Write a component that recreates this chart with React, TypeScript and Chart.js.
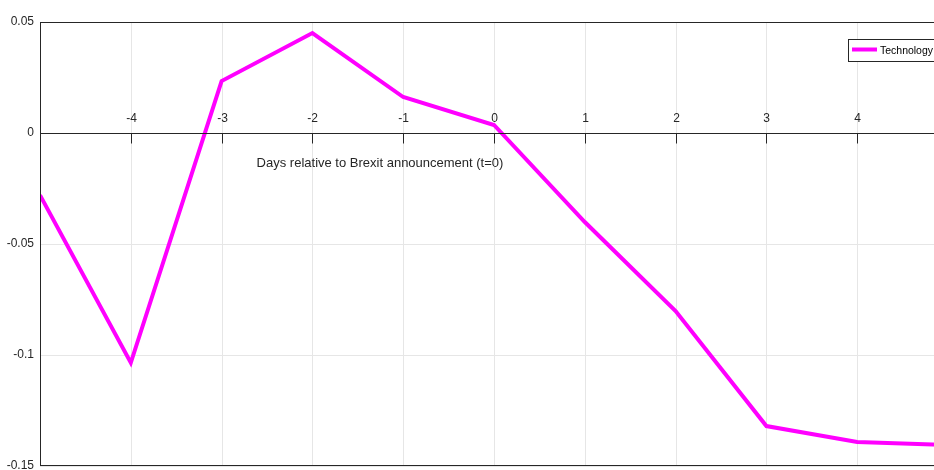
import React, { useEffect, useRef } from "react";
import { Chart, registerables } from "chart.js";

Chart.register(...registerables);

const days = [-5, -4, -3, -2, -1, 0, 1, 2, 3, 4, 5];
const technology = [-0.028, -0.1035, 0.0234, 0.045, 0.0162, 0.0036, -0.0401, -0.0802, -0.132, -0.1392, -0.1405];
const xTicks = [-4, -3, -2, -1, 0, 1, 2, 3, 4];
const yTickLabels: Record<string, string> = { "0.05": "0.05", "0": "0", "-0.05": "-0.05", "-0.1": "-0.1", "-0.15": "-0.15" };
const seriesName = "Technology";
const xTitle = "Days relative to Brexit announcement (t=0)";

const FONT = "Liberation Sans, Arial, sans-serif";
const TEXT = "#262626";
const GRID = "#e6e6e6";

const decor = {
  id: "decor",
  beforeDatasetsDraw(chart: any) {
    const { ctx, chartArea } = chart;
    const xs = chart.scales.x;
    ctx.save();
    ctx.strokeStyle = GRID;
    ctx.lineWidth = 1;
    for (let t = -5; t <= 5; t++) {
      const px = Math.round(xs.getPixelForValue(t)) + 0.5;
      ctx.beginPath();
      ctx.moveTo(px, chartArea.top);
      ctx.lineTo(px, chartArea.bottom);
      ctx.stroke();
    }
    ctx.restore();
  },
  afterDraw(chart: any) {
    const { ctx, chartArea } = chart;
    const xs = chart.scales.x;
    const ys = chart.scales.y;
    ctx.save();
    ctx.strokeStyle = "#262626";
    ctx.lineWidth = 1;
    ctx.strokeRect(chartArea.left + 0.5, chartArea.top + 0.5, chartArea.right - chartArea.left - 1, chartArea.bottom - chartArea.top - 1);
    const y0 = Math.round(ys.getPixelForValue(0)) + 0.5;
    ctx.beginPath();
    ctx.moveTo(chartArea.left, y0);
    ctx.lineTo(chartArea.right, y0);
    ctx.stroke();
    ctx.font = `12px ${FONT}`;
    ctx.fillStyle = TEXT;
    ctx.textAlign = "center";
    ctx.textBaseline = "middle";
    xTicks.forEach((t) => {
      const px = Math.round(xs.getPixelForValue(t)) + 0.5;
      ctx.beginPath();
      ctx.moveTo(px, y0);
      ctx.lineTo(px, y0 + 10);
      ctx.stroke();
      ctx.fillText(String(t), px, y0 - 15);
    });
    ctx.font = `13px ${FONT}`;
    ctx.fillText(xTitle, 380, y0 + 30);
    const lx = 848, ly = 39;
    ctx.fillStyle = "#ffffff";
    ctx.fillRect(lx, ly, 95, 22);
    ctx.strokeStyle = "#262626";
    ctx.strokeRect(lx + 0.5, ly + 0.5, 95, 22);
    ctx.strokeStyle = "#ff00ff";
    ctx.lineWidth = 4;
    ctx.beginPath();
    ctx.moveTo(852, ly + 10.5);
    ctx.lineTo(877, ly + 10.5);
    ctx.stroke();
    ctx.fillStyle = "#000000";
    ctx.font = `11.5px ${FONT}`;
    ctx.textAlign = "left";
    const w = ctx.measureText(seriesName).width;
    const sx = Math.min(1, 53 / w);
    ctx.translate(880, ly + 11.5);
    ctx.scale(sx, 1);
    ctx.fillText(seriesName, 0, 0);
    ctx.restore();
  },
};

export default function App() {
  const ref = useRef<HTMLCanvasElement>(null);
  useEffect(() => {
    if (!ref.current) return;
    const chart = new Chart(ref.current, {
      type: "line",
      data: {
        labels: days,
        datasets: [
          {
            label: seriesName,
            data: days.map((d, i) => ({ x: d, y: technology[i] })),
            borderColor: "#ff00ff",
            backgroundColor: "#ff00ff",
            borderWidth: 4,
            pointRadius: 0,
            tension: 0,
            borderJoinStyle: "miter",
          },
        ],
      },
      options: {
        responsive: false,
        animation: false,
        layout: { padding: { top: 22, right: 12, left: 0, bottom: 4 } },
        plugins: { legend: { display: false }, tooltip: { enabled: false } },
        scales: {
          x: {
            type: "linear",
            display: false,
            min: -5,
            max: 5,
          },
          y: {
            min: -0.15,
            max: 0.05,
            ticks: {
              stepSize: 0.05,
              padding: 6,
              color: TEXT,
              font: { family: FONT, size: 12 },
              callback: (v: any) => yTickLabels[String(Math.round(v * 100) / 100)] ?? "",
            },
            border: { display: false },
            grid: { color: GRID, drawTicks: false },
            afterFit: (s: any) => {
              s.width = 40;
              s.paddingTop = 0;
              s.paddingBottom = 0;
            },
          },
        },
      },
      plugins: [decor],
    });
    return () => chart.destroy();
  }, []);
  return (
    <div style={{ position: "fixed", left: 0, top: 0, width: 934, height: 470, overflow: "hidden", background: "#fff" }}>
      <canvas ref={ref} width={960} height={470} style={{ display: "block" }} />
    </div>
  );
}
